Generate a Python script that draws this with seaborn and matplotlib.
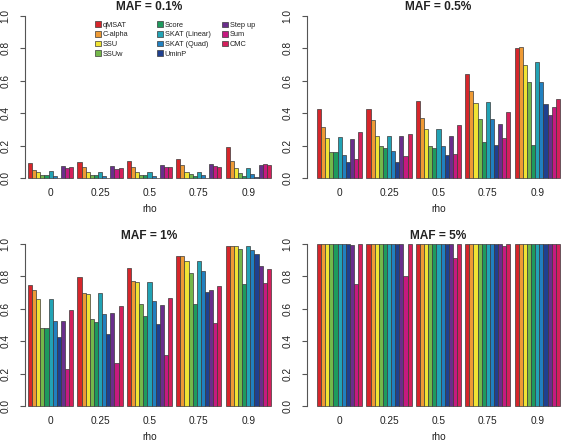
import numpy as np
import pandas as pd
import matplotlib
matplotlib.use("Agg")
import matplotlib.pyplot as plt
from matplotlib.patches import Patch
from matplotlib.legend import Legend
from matplotlib.transforms import blended_transform_factory
import seaborn as sns

# ---------------- data ----------------
methods = ["qMSAT", "C-alpha", "SSU", "SSUw", "Score", "SKAT (Linear)",
           "SKAT (Quad)", "UminP", "Step up", "Sum", "CMC"]
rho_levels = ["0", "0.25", "0.5", "0.75", "0.9"]
colors = ["#D7262B", "#EE9A35", "#F0E334", "#74B84A", "#1E9A5E", "#22A3B5",
          "#2180C0", "#1F408F", "#6A2E8C", "#C61A80", "#D4205C"]
titles = ["MAF = 0.1%", "MAF = 0.5%", "MAF = 1%", "MAF = 5%"]

# rows: rho levels, columns: methods
power_maf01 = [
    [0.095, 0.051, 0.035, 0.018, 0.018, 0.041, 0.014, 0.002, 0.077, 0.064, 0.069],
    [0.100, 0.068, 0.035, 0.018, 0.020, 0.035, 0.014, 0.002, 0.075, 0.057, 0.062],
    [0.105, 0.065, 0.040, 0.018, 0.018, 0.040, 0.015, 0.002, 0.078, 0.068, 0.068],
    [0.120, 0.080, 0.035, 0.022, 0.015, 0.035, 0.018, 0.003, 0.085, 0.075, 0.068],
    [0.190, 0.105, 0.060, 0.030, 0.012, 0.062, 0.025, 0.004, 0.080, 0.085, 0.080],
]
power_maf05 = [
    [0.427, 0.317, 0.250, 0.159, 0.159, 0.254, 0.144, 0.100, 0.240, 0.120, 0.282],
    [0.425, 0.355, 0.260, 0.195, 0.185, 0.260, 0.165, 0.100, 0.260, 0.135, 0.270],
    [0.475, 0.370, 0.300, 0.200, 0.185, 0.305, 0.200, 0.145, 0.260, 0.150, 0.325],
    [0.645, 0.535, 0.465, 0.365, 0.225, 0.470, 0.365, 0.205, 0.335, 0.245, 0.405],
    [0.805, 0.810, 0.700, 0.590, 0.205, 0.715, 0.595, 0.455, 0.390, 0.440, 0.485],
]
power_maf1 = [
    [0.746, 0.713, 0.660, 0.480, 0.480, 0.660, 0.524, 0.429, 0.526, 0.227, 0.592],
    [0.796, 0.700, 0.689, 0.538, 0.518, 0.697, 0.565, 0.443, 0.571, 0.264, 0.620],
    [0.852, 0.771, 0.765, 0.631, 0.555, 0.765, 0.649, 0.505, 0.623, 0.313, 0.668],
    [0.924, 0.924, 0.895, 0.819, 0.631, 0.897, 0.831, 0.701, 0.718, 0.511, 0.740],
    [0.990, 0.986, 0.988, 0.967, 0.755, 0.988, 0.961, 0.940, 0.862, 0.757, 0.845],
]
power_maf5 = [
    [1.0, 1.0, 1.0, 1.0, 1.0, 1.0, 1.0, 1.0, 0.995, 0.755, 1.0],
    [1.0, 1.0, 1.0, 1.0, 1.0, 1.0, 1.0, 1.0, 1.0, 0.800, 1.0],
    [1.0, 1.0, 1.0, 1.0, 1.0, 1.0, 1.0, 1.0, 1.0, 0.915, 1.0],
    [1.0, 1.0, 1.0, 1.0, 1.0, 1.0, 1.0, 1.0, 1.0, 0.985, 1.0],
    [1.0, 1.0, 1.0, 1.0, 1.0, 1.0, 1.0, 1.0, 1.0, 1.0, 1.0],
]
panels = [power_maf01, power_maf05, power_maf1, power_maf5]
yticks = [0.0, 0.2, 0.4, 0.6, 0.8, 1.0]

# ---------------- style ----------------
sns.set_style("white")
plt.rcParams["font.family"] = ["Liberation Sans", "DejaVu Sans"]

W, H = 561, 442
fig = plt.figure(figsize=(W / 100, H / 100), dpi=100)

unit = 49.4
half = 11 / 12 / 2
ax_h = 175 / H
rects = []
for row, bottom in enumerate([257.5 / H, 29.5 / H]):
    rects.append(([25 / W, bottom, 256 / W, ax_h],
                  (-half - 3 / unit, -half - 3 / unit + 256 / unit)))
    rects.append(([307 / W, bottom, 254 / W, ax_h],
                  (-half - 10 / unit, -half - 10 / unit + 254 / unit)))

axis_col = "#555555"
text_col = "#222222"

for i, (vals, title) in enumerate(zip(panels, titles)):
    rect, xl = rects[i]
    ax = fig.add_axes(rect)
    df = pd.DataFrame(
        [(r, m, v) for r, rowvals in zip(rho_levels, vals) for m, v in zip(methods, rowvals)],
        columns=["rho", "method", "power"],
    )
    sns.barplot(data=df, x="rho", y="power", hue="method", order=rho_levels,
                hue_order=methods, palette=colors, width=11 / 12, dodge=True,
                errorbar=None, saturation=1, edgecolor="#3a3a3a", linewidth=0.5,
                legend=False, ax=ax)
    ax.set_xlim(*xl)
    ax.set_ylim(-0.04, 1.04)
    for s in ["top", "right", "bottom"]:
        ax.spines[s].set_visible(False)
    ax.spines["left"].set_bounds(0, 1)
    ax.spines["left"].set_color(axis_col)
    ax.spines["left"].set_linewidth(0.8)
    ax.set_yticks(yticks)
    ax.set_yticklabels([f"{t:.1f}" for t in yticks], rotation=90, va="center")
    ax.tick_params(axis="y", length=3.6, width=0.8, color=axis_col, pad=7,
                   labelsize=7.3, labelcolor=text_col, left=True)
    ax.tick_params(axis="x", length=0, pad=2.5, labelsize=7.3, labelcolor=text_col)
    ax.set_ylabel("")
    ax.set_xlabel("rho", fontsize=7.3, color=text_col, va="center")
    bt = blended_transform_factory(ax.transData, ax.transAxes)
    ax.xaxis.set_label_coords(2, -24.5 / 175, transform=bt)
    ax.text(2, 1 + 2.0 / 175, title, transform=bt, ha="center", va="center",
            fontsize=8.6, fontweight="bold", color=text_col)
    ax.grid(False)

    if i == 0:
        col_x = [95, 157, 222]
        groups = [range(0, 4), range(4, 8), range(8, 11)]
        for cx, g in zip(col_x, groups):
            handles = [Patch(facecolor=colors[k], edgecolor="#3a3a3a", linewidth=0.5) for k in g]
            labels = [methods[k] for k in g]
            leg = Legend(ax, handles, labels, loc="upper left",
                         bbox_to_anchor=(cx / W, 1 - 21.5 / H),
                         bbox_transform=fig.transFigure, frameon=False,
                         fontsize=5.3, borderpad=0, borderaxespad=0,
                         handlelength=0.8, handleheight=0.8, handletextpad=0.25,
                         labelspacing=0.3, labelcolor=text_col)
            ax.add_artist(leg)

fig.savefig("out.png", dpi=100)
